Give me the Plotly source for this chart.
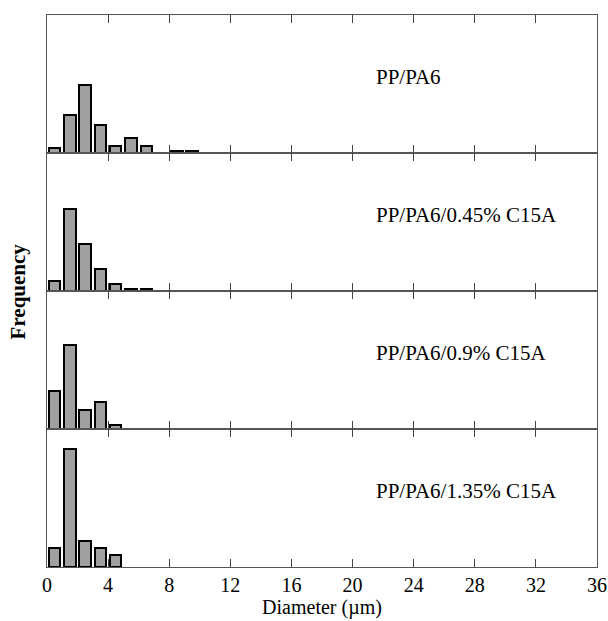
import plotly.graph_objects as go
from plotly.subplots import make_subplots

# Bin centres (µm) and frequencies (%) for each sample
diam_pp_pa6 = [0.5, 1.5, 2.5, 3.5, 4.5, 5.5, 6.5, 8.5, 9.5]
freq_pp_pa6 = [2.9, 22.1, 39.5, 16.3, 3.8, 8.5, 4.1, 1.2, 1.2]

diam_045 = [0.5, 1.5, 2.5, 3.5, 4.5, 5.5, 6.5]
freq_045 = [5.6, 47.8, 27.3, 12.6, 4.1, 1.3, 1.3]

diam_09 = [0.5, 1.5, 2.5, 3.5, 4.5]
freq_09 = [22.1, 48.8, 11.0, 15.5, 2.3]

diam_135 = [0.5, 1.5, 2.5, 3.5, 4.5]
freq_135 = [11.2, 68.4, 15.1, 11.2, 7.2]

labels = ["PP/PA6", "PP/PA6/0.45% C15A", "PP/PA6/0.9% C15A", "PP/PA6/1.35% C15A"]
series = [(diam_pp_pa6, freq_pp_pa6), (diam_045, freq_045), (diam_09, freq_09), (diam_135, freq_135)]

x_ticks = [0, 4, 8, 12, 16, 20, 24, 28, 32, 36]

FONT = "Liberation Serif"
LINE = "#555555"

fig = make_subplots(rows=4, cols=1, shared_xaxes=True, vertical_spacing=0)

for i, ((xs, ys), lab) in enumerate(zip(series, labels), start=1):
    fig.add_trace(go.Bar(x=xs, y=ys, width=0.75,
                         marker=dict(color="#a0a0a0", line=dict(color="black", width=2)),
                         showlegend=False), row=i, col=1)
    suffix = str(i) if i > 1 else ""
    fig.add_annotation(x=21.4, y=0.55, xref=f"x{suffix}",
                       yref=f"y{suffix} domain", text=lab, showarrow=False,
                       xanchor="left", yanchor="middle",
                       font=dict(family=FONT, size=21, color="black"))

fig.update_xaxes(range=[0, 36], tickmode="array", tickvals=x_ticks, ticks="inside",
                 ticklen=8, tickcolor="#444444", tickwidth=1.2, showline=True,
                 linecolor=LINE, linewidth=1.2, mirror="allticks", showgrid=False,
                 zeroline=False, automargin=False,
                 tickfont=dict(family=FONT, size=20, color="black"))
fig.update_xaxes(showticklabels=True, row=4, col=1)
fig.update_yaxes(range=[0, 80], showticklabels=False, ticks="", showline=True,
                 linecolor=LINE, linewidth=1.2, mirror=True, showgrid=False,
                 zeroline=False, automargin=False)

fig.update_xaxes(title=dict(text="Diameter (µm)",
                            font=dict(family=FONT, size=20, color="black"), standoff=2),
                 row=4, col=1)

fig.add_annotation(x=-0.052, y=0.5, xref="paper", yref="paper", text="<b>Frequency</b>",
                   textangle=-90, showarrow=False, xanchor="center", yanchor="middle",
                   font=dict(family=FONT, size=21, color="black"))

fig.update_layout(width=608, height=621, margin=dict(l=47, r=11, t=15, b=54, autoexpand=False),
                  plot_bgcolor="white", paper_bgcolor="white", bargap=0)

fig.write_html("out.html", config={"displayModeBar": False},
               post_script="document.body.style.margin='0';")
